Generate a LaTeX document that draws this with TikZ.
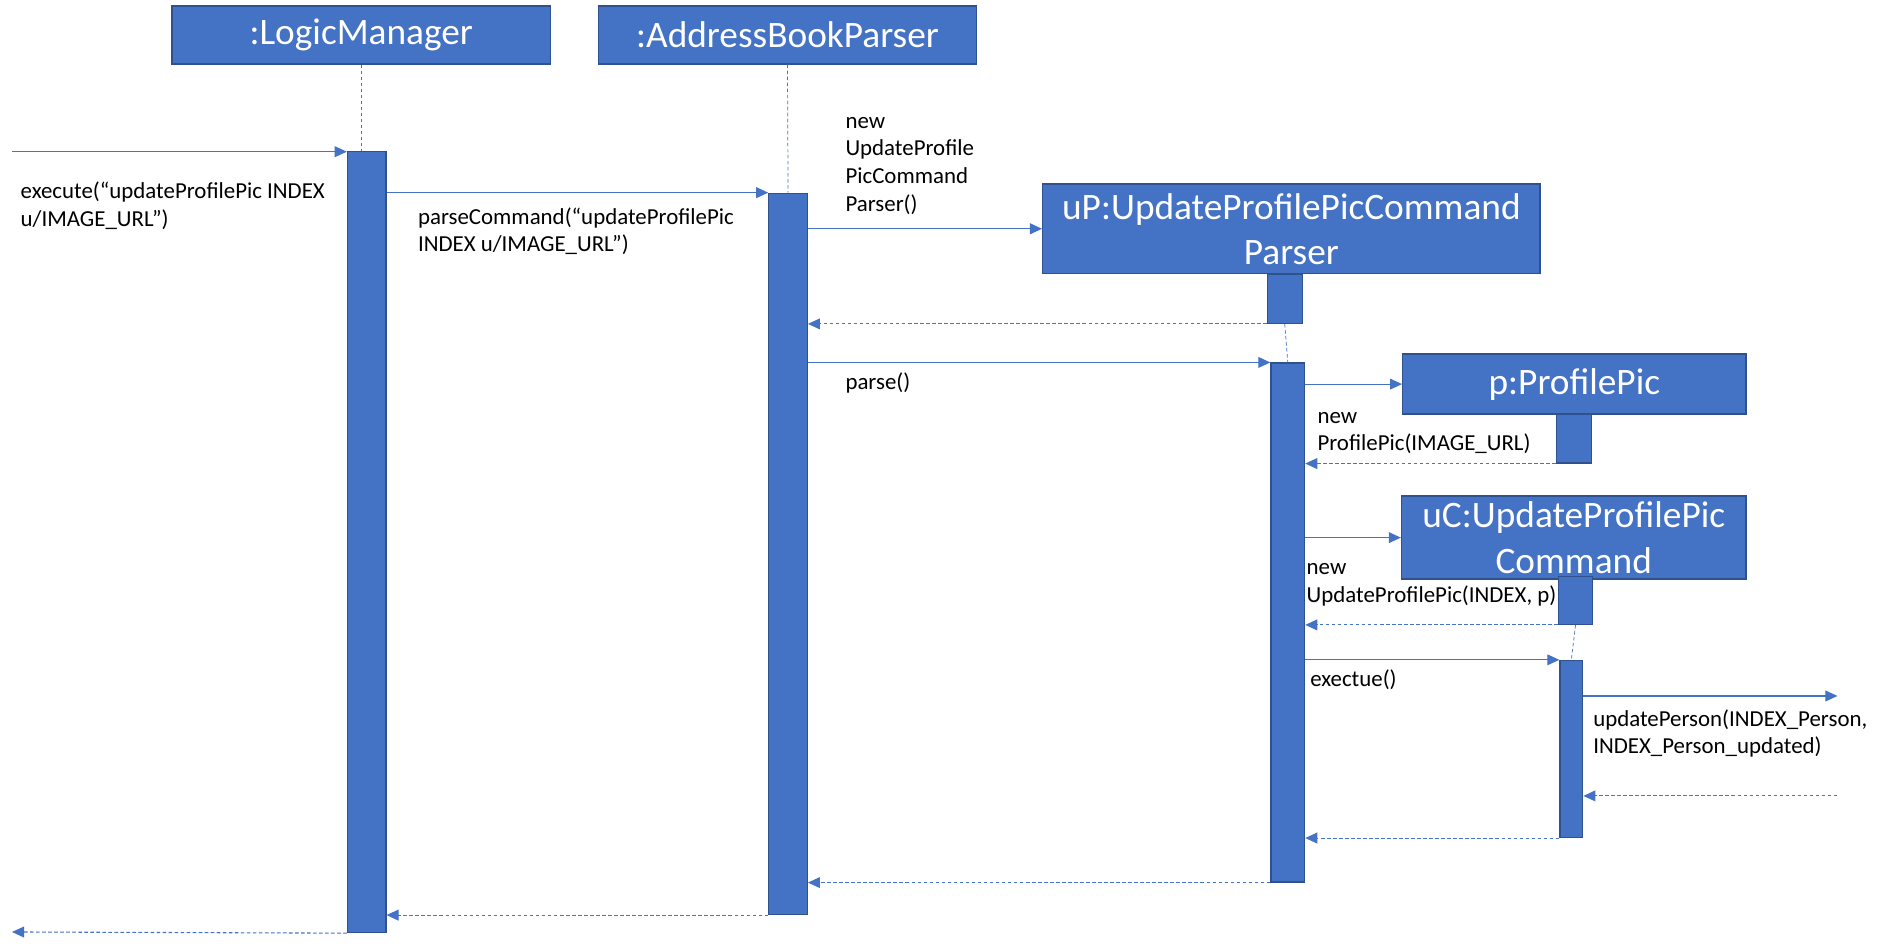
\documentclass[tikz,border=0pt]{standalone}
\usepackage{fontspec}
\setmainfont{Carlito}
\usetikzlibrary{arrows.meta}
\definecolor{objblue}{HTML}{4472C4}
\definecolor{objedge}{HTML}{2F528F}
\begin{document}
\begin{tikzpicture}[x=1pt,y=-1pt]
  \tikzstyle{obj}=[draw=objedge,fill=objblue,text=white,line width=1.2pt,font=\fontsize{31}{37.5}\selectfont,align=center,inner sep=0pt]
  \tikzstyle{act}=[draw=objedge,fill=objblue,line width=1pt,inner sep=0pt,anchor=north west]
  \tikzstyle{call}=[objblue,line width=0.9pt,-{Triangle[length=10pt,width=9pt]}]
  \tikzstyle{ret}=[call,dash pattern=on 3pt off 2pt]
  \tikzstyle{life}=[objblue,line width=0.6pt,dash pattern=on 3pt off 2pt]
  \tikzstyle{lbl}=[font=\fontsize{19}{23}\selectfont,align=left,inner sep=0pt,anchor=north west]
  \useasboundingbox (0,0) rectangle (1568,786);
  \node[obj,minimum width=314pt,minimum height=48pt] (lm) at (300,29) {:LogicManager};
  \node[obj,minimum width=314pt,minimum height=48pt] (abp) at (654,29) {:AddressBookParser};
  \node[obj,minimum width=413pt,minimum height=74pt] (uP) at (1072.5,190) {uP:UpdateProfilePicCommand\\Parser};
  \node[obj,minimum width=285pt,minimum height=50pt] (pp) at (1307.5,319) {p:ProfilePic};
  \node[obj,minimum width=286pt,minimum height=69pt] (uC) at (1307,446.5) {uC:UpdateProfilePic\\Command};
  \node[act,minimum width=32pt,minimum height=649pt] (lmA) at (288,125) {};
  \node[act,minimum width=32pt,minimum height=599pt] (abpA) at (638,160) {};
  \node[act,minimum width=29pt,minimum height=41pt] (uPA) at (1052,227) {};
  \node[act,minimum width=28pt,minimum height=431pt] (uPB) at (1055,301) {};
  \node[act,minimum width=29pt,minimum height=40pt] (ppA) at (1292,344) {};
  \node[act,minimum width=28pt,minimum height=40pt] (uCA) at (1294,478) {};
  \node[act,minimum width=19pt,minimum height=147pt] (uCB) at (1295,548) {};
  \coordinate (start) at (10,126);
  \coordinate (finish) at (10,774);
  \coordinate (ext) at (1526,578);
  \coordinate (extback) at (1526,661);
  \draw[life] (lm.south) -- (lm.south |- lmA.north);
  \draw[life] (abp.south) -- (abpA.north);
  \draw[life] (uPA.south) -- (uPB.north);
  \draw[life] (uCA.south) -- (uCB.north);
  \draw[call] (start) -- (start -| lmA.west);
  \draw[call] (lmA.east |- abpA.north) -- (abpA.north west);
  \draw[call] (abpA.east |- uP.west) -- (uP.west);
  \draw[ret] (uPA.south west) -- (abpA.east |- uPA.south);
  \draw[call] (abpA.east |- uPB.north) -- (uPB.north west);
  \draw[call] (uPB.east |- pp.west) -- (pp.west);
  \draw[ret] (ppA.south west) -- (uPB.east |- ppA.south);
  \draw[call] (uPB.east |- uC.west) -- (uC.west);
  \draw[ret] (uCA.south west) -- (uPB.east |- uCA.south);
  \draw[call] (uPB.east |- uCB.north) -- (uCB.north west);
  \draw[call] (uCB.east |- ext) -- (ext);
  \draw[ret] (extback) -- (uCB.east |- extback);
  \draw[ret] (uCB.south west) -- (uPB.east |- uCB.south);
  \draw[ret] (uPB.south west) -- (abpA.east |- uPB.south);
  \draw[ret] (abpA.south west) -- (lmA.east |- abpA.south);
  \draw[ret] (lmA.south west) -- (finish);
  \node[lbl] (execlbl) at (17,151) {execute(“updateProfilePic INDEX\\u/IMAGE\_URL”)};
  \node[lbl] (parsecmdlbl) at (347,172) {parseCommand(“updateProfilePic\\INDEX u/IMAGE\_URL”)};
  \node[lbl] (newparserlbl) at (702,97) {new\\UpdateProfile\\PicCommand\\Parser()};
  \node[lbl] (parselbl) at (702,309) {parse()};
  \node[lbl] (newpplbl) at (1094,342) {new\\ProfilePic(IMAGE\_URL)};
  \node[lbl] (newuclbl) at (1085,468) {new\\UpdateProfilePic(INDEX, p)};
  \node[lbl] (exectuelbl) at (1088,556) {exectue()};
  \node[lbl] (updatelbl) at (1323,589) {updatePerson(INDEX\_Person,\\INDEX\_Person\_updated)};
\end{tikzpicture}
\end{document}
